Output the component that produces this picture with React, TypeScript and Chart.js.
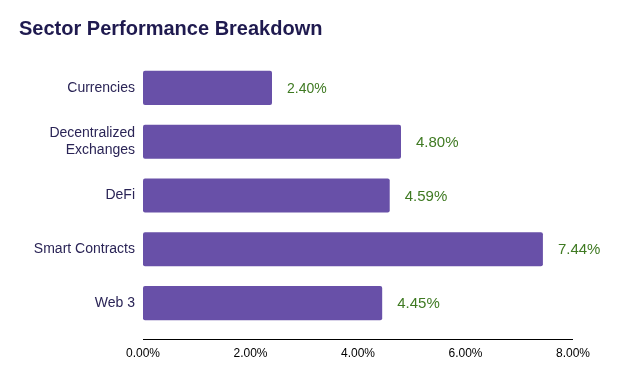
import React, { useEffect, useRef } from "react";
import { Chart, registerables } from "chart.js";

Chart.register(...registerables);

const categories: (string | string[])[] = [
  "Currencies",
  ["Decentralized", "Exchanges"],
  "DeFi",
  "Smart Contracts",
  "Web 3",
];
const values: number[] = [2.4, 4.8, 4.59, 7.44, 4.45];
const xTicks: number[] = [0, 2, 4, 6, 8];
const titleText = "Sector Performance Breakdown";

const FONT = "'Liberation Sans', Arial, sans-serif";

const valueLabelPlugin = {
  id: "valueLabels",
  afterDatasetsDraw(chart: any) {
    const ctx = chart.ctx;
    const meta = chart.getDatasetMeta(0);
    ctx.save();
    ctx.fillStyle = "#3f7a22";
    ctx.textAlign = "left";
    ctx.textBaseline = "middle";
    meta.data.forEach((bar: any, i: number) => {
      const v = values[i];
      const size = v < 3 ? 14 : 15;
      ctx.font = `${size}px ${FONT}`;
      ctx.fillText(v.toFixed(2) + "%", bar.x + 15, bar.y + 1);
    });
    ctx.restore();
  },
};

const axisLinePlugin = {
  id: "axisLine",
  afterDraw(chart: any) {
    const { ctx, chartArea } = chart;
    const y = chartArea.bottom + 9.5;
    ctx.save();
    ctx.strokeStyle = "#000000";
    ctx.lineWidth = 1;
    ctx.beginPath();
    ctx.moveTo(chartArea.left, y);
    ctx.lineTo(chartArea.right, y);
    ctx.stroke();
    ctx.restore();
  },
};

export default function App() {
  const canvasRef = useRef<HTMLCanvasElement | null>(null);

  useEffect(() => {
    if (!canvasRef.current) return;
    const chart = new Chart(canvasRef.current, {
      type: "bar",
      data: {
        labels: categories,
        datasets: [
          {
            data: values,
            backgroundColor: "#6850a8",
            borderRadius: 2,
            borderSkipped: false,
            categoryPercentage: 1,
            barPercentage: 0.633,
          },
        ],
      },
      options: {
        indexAxis: "y",
        animation: false,
        responsive: false,
        layout: { padding: { left: 19, right: 50, top: 0, bottom: 0 } },
        plugins: {
          legend: { display: false },
          tooltip: { enabled: false },
          title: {
            display: true,
            text: titleText,
            align: "start",
            color: "#1f1a4f",
            font: { family: FONT, size: 20, weight: "bold" },
            padding: { top: 17, bottom: 20 },
          },
        },
        scales: {
          x: {
            min: 0,
            max: 8,
            afterBuildTicks(scale: any) {
              scale.ticks = xTicks.map((v) => ({ value: v }));
            },
            afterFit(scale: any) {
              scale.height = 46;
            },
            grid: { display: false, drawTicks: false },
            border: { display: false },
            ticks: {
              padding: 16,
              color: "#000000",
              font: { family: FONT, size: 12 },
              callback: (v: any) => Number(v).toFixed(2) + "%",
            },
          },
          y: {
            afterFit(scale: any) {
              scale.width = 124;
            },
            grid: { display: false, drawTicks: false },
            border: { display: false },
            ticks: {
              padding: 8,
              color: "#2a2456",
              font: { family: FONT, size: 14, lineHeight: 1.2 },
            },
          },
        },
      },
      plugins: [valueLabelPlugin, axisLinePlugin],
    });
    return () => chart.destroy();
  }, []);

  return (
    <div style={{ position: "fixed", left: 0, top: 0, width: 623, height: 376, background: "#ffffff" }}>
      <canvas ref={canvasRef} width={623} height={376} style={{ width: 623, height: 376 }} />
    </div>
  );
}
